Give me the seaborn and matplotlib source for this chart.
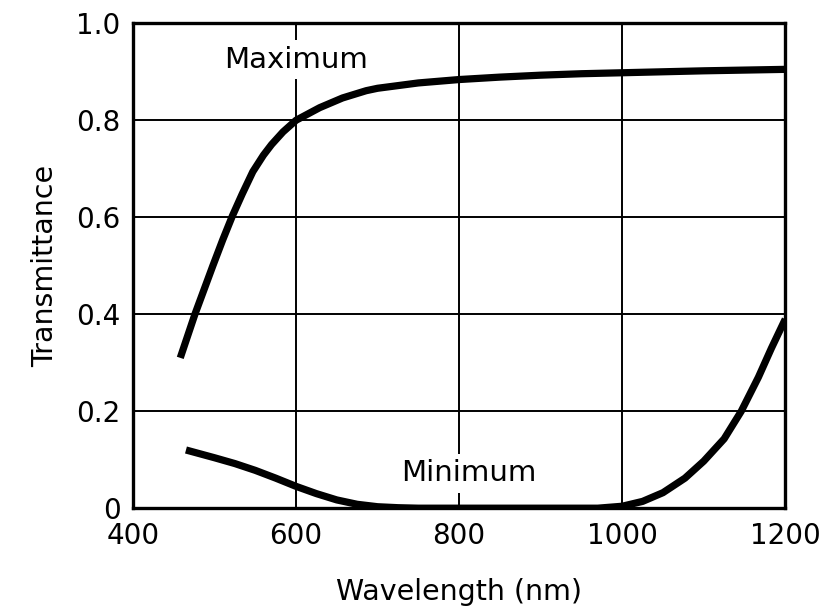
import numpy as np
import pandas as pd
import matplotlib
matplotlib.use("Agg")
from matplotlib import pyplot as plt
import seaborn as sns

# values
max_wl = [458, 476, 498, 510, 522, 534, 547, 560, 570, 584, 600, 629, 657, 686,
          700, 750, 800, 850, 900, 950, 1000, 1100, 1200]
max_tr = [0.31, 0.40, 0.50, 0.553, 0.603, 0.648, 0.694, 0.728, 0.750, 0.776, 0.80, 0.826, 0.846, 0.861,
          0.866, 0.877, 0.884, 0.889, 0.893, 0.896, 0.898, 0.902, 0.905]

min_wl = [465, 500, 525, 550, 575, 600, 625, 650, 675, 700, 725, 750, 800, 900, 970,
          1000, 1025, 1050, 1077, 1100, 1125, 1146, 1167, 1183, 1200]
min_tr = [0.12, 0.104, 0.092, 0.078, 0.062, 0.045, 0.030, 0.017, 0.008, 0.003, 0.001, 0.0,
          0.0, 0.0, 0.0, 0.004, 0.014, 0.032, 0.062, 0.097, 0.143, 0.20, 0.27, 0.33, 0.39]

x_ticks = [400, 600, 800, 1000, 1200]
y_ticks = [0, 0.2, 0.4, 0.6, 0.8, 1.0]
y_tick_labels = ["0", "0.2", "0.4", "0.6", "0.8", "1.0"]

df = pd.concat([
    pd.DataFrame({"wl": max_wl, "tr": max_tr, "curve": "Maximum"}),
    pd.DataFrame({"wl": min_wl, "tr": min_tr, "curve": "Minimum"}),
])

sns.set_style("white")
plt.rcParams['font.family'] = ['DejaVu Sans']
plt.rcParams['text.color'] = 'black'
plt.rcParams['axes.labelcolor'] = 'black'
plt.rcParams['xtick.color'] = 'black'
plt.rcParams['ytick.color'] = 'black'

fig = plt.figure(figsize=(8.31, 6.13), dpi=100)
ax = fig.add_axes([0.160, 0.171, 0.785, 0.791])

sns.lineplot(data=df, x="wl", y="tr", units="curve", estimator=None,
             color="black", linewidth=5.2, sort=True, ax=ax, zorder=5)
for ln in ax.lines:
    ln.set_solid_joinstyle("round")
    ln.set_solid_capstyle("butt")

ax.set_xlim(400, 1200)
ax.set_ylim(0, 1.0)
ax.set_xticks(x_ticks)
ax.set_yticks(y_ticks)
ax.set_yticklabels(y_tick_labels)
ax.grid(True, color="black", linewidth=1.4)
ax.set_axisbelow(True)
ax.tick_params(length=0, labelsize=20)
ax.tick_params(axis="x", pad=10)
ax.tick_params(axis="y", pad=9)

for s in ax.spines.values():
    s.set_color("black")
    s.set_linewidth(2.4)

ax.set_xlabel("Wavelength (nm)", fontsize=20.5, labelpad=20)
ax.set_ylabel("Transmittance", fontsize=20.5, labelpad=12)

ax.text(600, 0.925, "Maximum", fontsize=21, ha="center", va="center", zorder=3,
        bbox=dict(facecolor="white", edgecolor="none", pad=4))
ax.text(812, 0.072, "Minimum", fontsize=21, ha="center", va="center", zorder=3,
        bbox=dict(facecolor="white", edgecolor="none", pad=4))

fig.savefig("out.png", dpi=100)
